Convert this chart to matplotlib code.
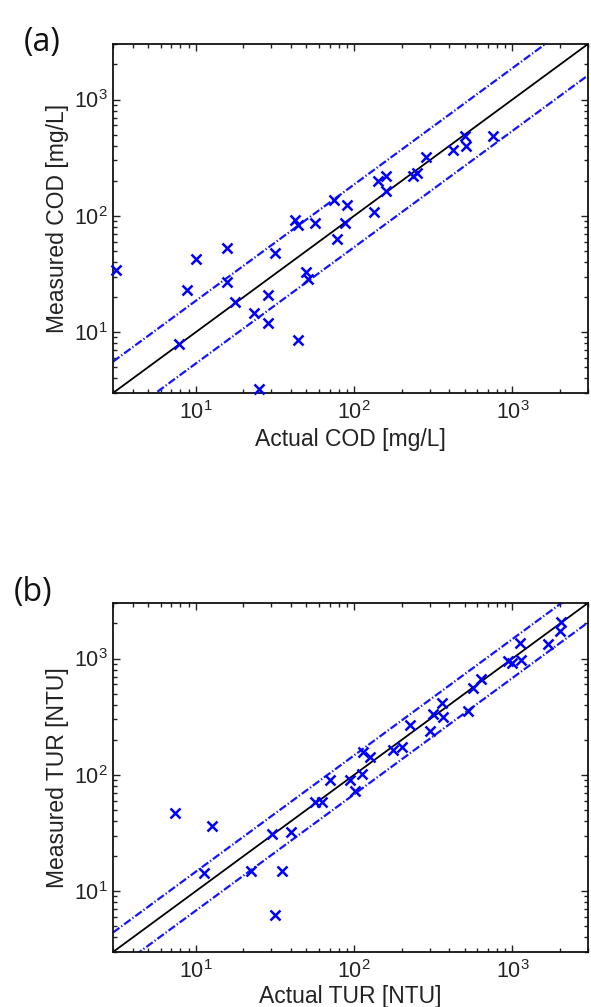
import matplotlib
matplotlib.use("Agg")
import matplotlib.pyplot as plt
from matplotlib.ticker import LogLocator, LogFormatterMathtext, NullFormatter
import numpy as np

plt.rcParams['font.family'] = ['Liberation Sans', 'DejaVu Sans']
plt.rcParams['mathtext.fontset'] = 'custom'
plt.rcParams['mathtext.rm'] = 'Liberation Sans'
plt.rcParams['mathtext.it'] = 'Liberation Sans'
plt.rcParams['mathtext.default'] = 'regular'

# ---- data (a) COD ----
cod_actual = [3.15, 7.86, 8.8, 10.1, 15.7, 15.8, 17.6, 23.4, 25.1, 28.4, 28.4, 31.5,
              42.4, 44.5, 44.3, 50.0, 51.0, 56.4, 74.8, 78.5, 88.2, 90.4, 133.6, 141.6,
              158.9, 158.9, 236.8, 248.0, 284.0, 423.0, 502.0, 507.0, 757.0]
cod_measured = [34.3, 7.9, 23.1, 42.8, 52.8, 27.2, 18.0, 14.7, 3.24, 21.0, 11.9, 48.2,
                91.5, 84.0, 8.5, 33.2, 28.5, 86.9, 135.6, 63.8, 86.9, 123.0, 108.0, 199.6,
                220.0, 164.0, 221.0, 235.0, 322.0, 367.0, 483.0, 400.0, 486.0]
cod_band = 1.86

# ---- data (b) TUR ----
tur_actual = [7.35, 12.7, 11.3, 22.4, 31.6, 30.3, 35.2, 40.1, 56.6, 63.0, 70.3, 94.8,
              101.0, 112.0, 113.8, 126.6, 176.0, 200.0, 226.0, 301.0, 316.0, 357.0, 362.0,
              525.0, 564.0, 630.0, 944.0, 1000.0, 1121.0, 1133.0, 1683.0, 2019.0, 2000.0]
tur_measured = [47.2, 36.3, 14.3, 14.8, 6.2, 31.0, 14.8, 32.5, 58.2, 58.2, 91.0, 91.0,
                72.3, 102.0, 157.0, 142.0, 164.0, 173.0, 268.0, 237.0, 333.0, 418.0, 316.0,
                351.0, 562.0, 662.0, 961.0, 918.0, 1361.0, 980.0, 1334.0, 2056.0, 1733.0]
tur_band = 1.47

axis_range = [3, 3000]

fig = plt.figure(figsize=(5.91, 10.07), dpi=100)
W, H = 591, 1007

def make_ax(top_px, bottom_px, xs, ys, band, xlabel, ylabel, xlab_y):
    left_px, right_px = 113, 588
    ax = fig.add_axes([left_px / W, 1 - bottom_px / H,
                       (right_px - left_px) / W, (bottom_px - top_px) / H])
    lims = np.array(axis_range, dtype=float)
    ax.plot(lims, lims, color='black', lw=1.3, zorder=2)
    dash = (0, (3.6, 1.0, 0.6, 1.0))
    ax.plot(lims, lims * band, color='#1414ff', lw=1.6, linestyle=dash, zorder=2)
    ax.plot(lims, lims / band, color='#1414ff', lw=1.6, linestyle=dash, zorder=2)
    ax.plot(xs, ys, linestyle='none', marker='x', color='#0000ff',
            markersize=6.5, markeredgewidth=1.8, zorder=3, clip_on=False)
    ax.set_xscale('log')
    ax.set_yscale('log')
    ax.set_xlim(axis_range)
    ax.set_ylim(axis_range)
    for axis in (ax.xaxis, ax.yaxis):
        axis.set_major_locator(LogLocator(base=10, numticks=10))
        axis.set_minor_locator(LogLocator(base=10, subs=np.arange(2, 10), numticks=20))
        axis.set_major_formatter(LogFormatterMathtext())
        axis.set_minor_formatter(NullFormatter())
    ax.tick_params(which='both', direction='in', top=True, right=True,
                   labelsize=15.5, colors='#222222', width=1.0)
    ax.tick_params(which='major', length=5)
    ax.tick_params(which='minor', length=3)
    ax.tick_params(axis='x', pad=6)
    ax.tick_params(axis='y', pad=4)
    for s in ax.spines.values():
        s.set_linewidth(1.3)
        s.set_color('#111111')
    ax.set_xlabel(xlabel, fontsize=16.5, color='#222222')
    ax.set_ylabel(ylabel, fontsize=16.5, color='#222222')
    ax.xaxis.set_label_coords(0.5, xlab_y)
    ax.yaxis.set_label_coords(-0.092, 0.5)
    return ax

make_ax(44, 393, cod_actual, cod_measured, cod_band,
        'Actual COD [mg/L]', 'Measured COD [mg/L]', -0.100)
make_ax(603, 952, tur_actual, tur_measured, tur_band,
        'Actual TUR [NTU]', 'Measured TUR [NTU]', -0.094)

fig.text(42 / W, 1 - 42 / H, '(a)', fontsize=23, family=['Open Sans', 'DejaVu Sans'],
         ha='center', va='center', color='#111111')
fig.text(33 / W, 1 - 592 / H, '(b)', fontsize=23, family=['Open Sans', 'DejaVu Sans'],
         ha='center', va='center', color='#111111')

fig.savefig('out.png', dpi=100)
